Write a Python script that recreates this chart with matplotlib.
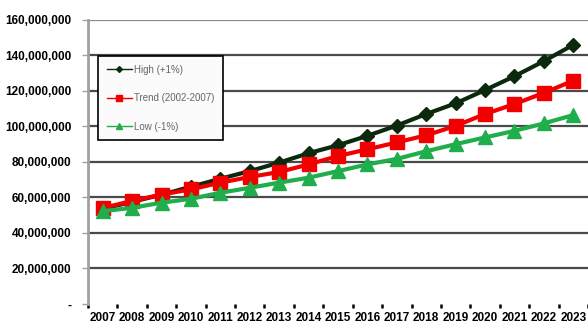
import matplotlib
matplotlib.use("Agg")
import matplotlib.pyplot as plt
from matplotlib.lines import Line2D
from matplotlib.ticker import FixedLocator, FuncFormatter

years = ["2007", "2008", "2009", "2010", "2011", "2012", "2013", "2014", "2015",
         "2016", "2017", "2018", "2019", "2020", "2021", "2022", "2023"]

# Values in millions
high = [53.5, 57.5, 61.5, 66.0, 70.5, 74.8, 79.6, 84.9, 89.4, 94.7,
        100.5, 107.0, 113.0, 120.5, 128.3, 136.8, 146.0]
trend = [54.0, 58.0, 61.6, 64.5, 68.3, 71.5, 74.3, 78.6, 83.3, 87.1,
         91.0, 95.0, 100.3, 107.0, 112.6, 118.9, 125.8]
low = [52.2, 54.1, 57.0, 59.2, 62.6, 65.4, 68.3, 71.1, 74.8, 78.6,
       81.7, 86.0, 90.0, 93.8, 97.5, 101.7, 106.4]

series_names = ["High (+1%)", "Trend (2002-2007)", "Low (-1%)"]
y_ticks = [0, 20, 40, 60, 80, 100, 120, 140, 160]

W, H = 588, 327
fig = plt.figure(figsize=(W / 100, H / 100), dpi=100)
ax = fig.add_axes([88 / W, (H - 303.8) / H, 1 - 88 / W, (303.8 - 20) / H])

x = list(range(len(years)))
c_high, c_trend, c_low = "#0b2a0d", "#f20000", "#1fae4b"

ax.plot(x, high, color=c_high, lw=3, marker="D", ms=7, zorder=3)
ax.plot(x, trend, color=c_trend, lw=3, marker="s", ms=10, zorder=4)
ax.plot(x, low, color=c_low, lw=3, marker="^", ms=10, zorder=5)

ax.set_xlim(-0.47, 16.34)
ax.set_ylim(0, 160)

# horizontal gridlines
for v in y_ticks[1:]:
    col = "#8a8a8a" if v == 160 else "#4a4a4a"
    ax.axhline(v, color=col, lw=1.6, zorder=1)

for s in ["top", "right", "bottom"]:
    ax.spines[s].set_visible(False)
ax.spines["left"].set_color("#a0a0a0")
ax.spines["left"].set_linewidth(2)

ax.yaxis.set_major_locator(FixedLocator(y_ticks))
ax.yaxis.set_major_formatter(FuncFormatter(
    lambda v, p: "-" if v == 0 else f"{int(v * 1_000_000):,}"))
ax.tick_params(axis="y", length=4, width=1, color="#a0a0a0", pad=8)
for t in ax.get_yticklabels():
    t.set_fontfamily(["Liberation Sans", "DejaVu Sans"])
    t.set_fontweight("bold")
    t.set_fontsize(8.5)

# category ticks between points, labels under the points
ax.set_xticks([i + 0.5 for i in range(-1, len(years))], minor=False)
ax.set_xticklabels([])
ax.tick_params(axis="x", which="major", length=3, width=1.8, color="black",
               direction="out")
ax.set_xticks(x, minor=True)
ax.set_xticklabels(years, minor=True)
ax.tick_params(axis="x", which="minor", length=0, pad=6)
for t in ax.get_xticklabels(minor=True):
    t.set_fontfamily(["Liberation Sans Narrow", "Liberation Sans", "DejaVu Sans"])
    t.set_fontweight("bold")
    t.set_fontsize(8.5)

handles = [
    Line2D([], [], color=c_high, lw=1, marker="D", ms=3),
    Line2D([], [], color=c_trend, lw=1, marker="s", ms=5),
    Line2D([], [], color=c_low, lw=1, marker="^", ms=4),
]
leg = fig.legend(handles, series_names, loc="upper left",
                 bbox_to_anchor=(98 / W, (H - 56) / H), borderaxespad=0,
                 fancybox=False, frameon=True, handlelength=2.6,
                 handletextpad=0.2, labelspacing=1.9, borderpad=0.9,
                 prop={"size": 7, "family": ["Liberation Sans", "DejaVu Sans"]},
                 labelcolor="#666666")
leg.get_frame().set_edgecolor("black")
leg.get_frame().set_linewidth(1.2)
leg.get_frame().set_facecolor("#fbfbfb")
leg.get_frame().set_alpha(1)
leg.set_zorder(10)

fig.savefig("out.png", dpi=100)
